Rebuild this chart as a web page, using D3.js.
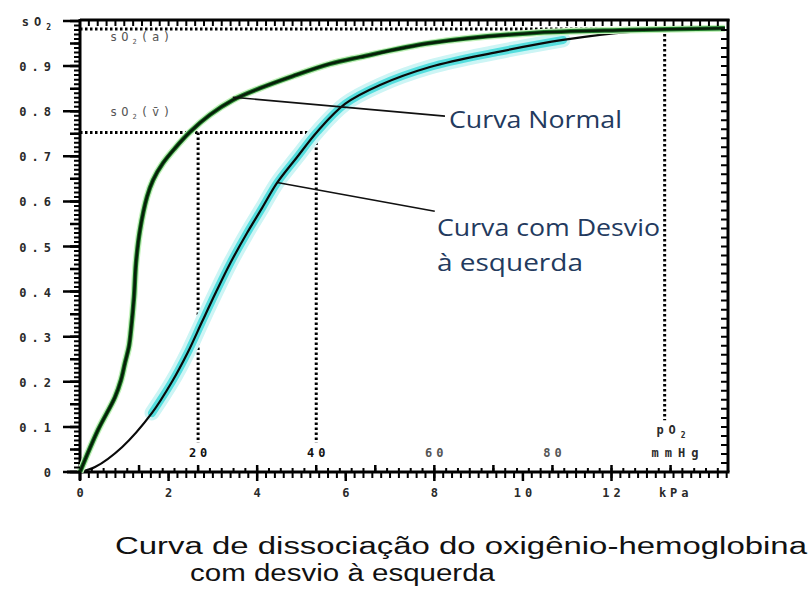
<!DOCTYPE html>
<html>
<head>
<meta charset="utf-8">
<script src="https://cdn.jsdelivr.net/npm/d3@7"></script>
<style>
  html, body { margin: 0; padding: 0; background: #fff; }
  svg { display: block; }
  .pix { font-family: "DejaVu Sans Mono", monospace; font-size: 12px; fill: #2a2a2a; font-weight: bold; }
</style>
</head>
<body>
<svg id="chart" width="812" height="591"></svg>
<script>
// ---------- data ----------
const kpaTicks = [0, 2, 4, 6, 8, 10, 12];
const kpaUnit = "kPa";
const mmHgLabels = [20, 40, 60, 80];
const satTicks = [0, 0.1, 0.2, 0.3, 0.4, 0.5, 0.6, 0.7, 0.8, 0.9, 1.0];
const satLabels = ["0", "0.1", "0.2", "0.3", "0.4", "0.5", "0.6", "0.7", "0.8", "0.9", "sO2"];

// Curve pointed to by "Curva Normal" label (kPa, saturation)
const normalCurve = [
  [0, 0], [0.406, 0.093], [0.790, 0.166], [0.926, 0.204], [1.016, 0.242],
  [1.106, 0.279], [1.151, 0.315], [1.219, 0.388], [1.264, 0.463], [1.355, 0.537],
  [1.513, 0.610], [1.648, 0.647], [1.874, 0.685], [2.145, 0.718], [2.484, 0.754],
  [2.935, 0.792], [3.455, 0.825], [4.064, 0.851], [4.810, 0.878], [5.645, 0.905],
  [6.322, 0.920], [7.902, 0.951], [10.16, 0.973], [12.42, 0.980], [14.56, 0.984]
];
// Curve pointed to by "Curva com Desvio à esquerda" label
const shiftedCurve = [
  [0, 0], [0.339, 0.011], [0.948, 0.055], [1.626, 0.131], [2.077, 0.200],
  [2.438, 0.266], [2.755, 0.333], [3.071, 0.399], [3.409, 0.466], [3.771, 0.530],
  [4.109, 0.585], [4.448, 0.641], [4.899, 0.698], [5.351, 0.754], [5.983, 0.816],
  [6.774, 0.858], [7.902, 0.898], [9.415, 0.931], [10.905, 0.958], [12.418, 0.976],
  [13.163, 0.978], [14.563, 0.982]
];

const saO2 = 0.982, svO2 = 0.753;
const pO2a_mmHg = 99, pO2v1_mmHg = 20, pO2v2_mmHg = 40;
const mmHgPerKPa = 7.5;

// annotations (data space)
const annotNormal = { from: [3.45, 0.831], to: [8.24, 0.789], text: ["Curva Normal"], len: [173], at: [8.33, 0.762] };
const annotShift = { from: [4.45, 0.642], to: [8.01, 0.578], text: ["Curva com Desvio", "à  esquerda"], len: [223, 146], at: [8.06, 0.524] };

// ---------- scales ----------
const svg = d3.select("#chart");
const xS = d3.scaleLinear().domain([0, 14.63]).range([80, 728]);
const yS = d3.scaleLinear().domain([0, 1]).range([472, 21]);
const mm = v => xS(v / mmHgPerKPa);

// ---------- frame ----------
svg.append("line").attr("x1", xS(0)).attr("x2", xS(14.63) + 1.5).attr("y1", yS(1) - 1).attr("y2", yS(1) - 1)
  .attr("stroke", "#000").attr("stroke-width", 3);
svg.append("line").attr("x1", xS(14.63)).attr("x2", xS(14.63)).attr("y1", yS(1) - 2).attr("y2", yS(0))
  .attr("stroke", "#000").attr("stroke-width", 3);
svg.append("line").attr("x1", xS(0)).attr("x2", xS(0)).attr("y1", yS(0) + 8).attr("y2", yS(1) - 2)
  .attr("stroke", "#000").attr("stroke-width", 3);
svg.append("line").attr("x1", xS(0) - 13).attr("x2", xS(14.63) + 1.5).attr("y1", yS(0)).attr("y2", yS(0))
  .attr("stroke", "#000").attr("stroke-width", 3);

// y labels
svg.append("g").selectAll("text").data(satTicks).join("text")
  .attr("class", "pix").attr("x", xS(0) - 24).attr("y", d => yS(d) + 5)
  .attr("text-anchor", "end").attr("letter-spacing", 5)
  .each(function (d, i) {
    const t = d3.select(this), s = satLabels[i];
    if (s === "sO2") { t.text("sO"); t.append("tspan").attr("dy", 4).attr("font-size", "8px").text("2"); }
    else t.text(s);
  });

// x labels
svg.append("g").selectAll("text").data(kpaTicks).join("text")
  .attr("class", "pix").attr("x", d => xS(d) + 2).attr("y", 497)
  .attr("text-anchor", "middle").attr("letter-spacing", 4).text(d => d);
svg.append("text").attr("class", "pix").attr("x", xS(13.45)).attr("y", 497)
  .attr("text-anchor", "middle").attr("letter-spacing", 4).text(kpaUnit);

svg.append("g").selectAll("text").data(mmHgLabels).join("text")
  .attr("class", "pix").attr("x", d => mm(d) + 2).attr("y", 457).attr("text-anchor", "middle")
  .attr("letter-spacing", 4).style("fill", (d, i) => i < 2 ? "#111" : "#555").text(d => d);
const pt = svg.append("text").attr("class", "pix").attr("x", xS(13.4)).attr("y", 434)
  .attr("text-anchor", "middle").attr("letter-spacing", 5).text("pO");
pt.append("tspan").attr("dy", 4).attr("font-size", "8px").text("2");
svg.append("text").attr("class", "pix").attr("x", xS(13.5)).attr("y", 457)
  .attr("text-anchor", "middle").attr("letter-spacing", 6).text("mmHg");

// ---------- reference dotted lines ----------
const dot = sel => sel.attr("stroke", "#000").attr("stroke-width", 3).attr("stroke-dasharray", "2.5,2.5").attr("fill", "none");
svg.append("line").attr("x1", xS(0)).attr("x2", mm(pO2a_mmHg)).attr("y1", yS(saO2)).attr("y2", yS(saO2)).call(dot);
svg.append("line").attr("x1", xS(0)).attr("x2", mm(pO2v2_mmHg)).attr("y1", yS(svO2)).attr("y2", yS(svO2)).call(dot);
svg.append("line").attr("x1", mm(pO2v1_mmHg)).attr("x2", mm(pO2v1_mmHg)).attr("y1", yS(svO2)).attr("y2", yS(0.065)).call(dot);
svg.append("line").attr("x1", mm(pO2v2_mmHg)).attr("x2", mm(pO2v2_mmHg)).attr("y1", yS(svO2)).attr("y2", yS(0.065)).call(dot);
svg.append("line").attr("x1", mm(pO2a_mmHg)).attr("x2", mm(pO2a_mmHg)).attr("y1", yS(saO2)).attr("y2", yS(0.115)).call(dot);
svg.append("rect").attr("x", mm(pO2v2_mmHg) - 3).attr("y", yS(svO2) - 3).attr("width", 6).attr("height", 6).attr("fill", "#000");

// small grey labels sO2(a), sO2(v)
const lab = (txt, sub, tail, sat) => {
  const t = svg.append("text").attr("class", "pix").attr("x", 110).attr("y", yS(sat))
    .attr("font-size", "10px").attr("letter-spacing", 4).style("fill", "#555").style("font-weight", "normal").text(txt);
  t.append("tspan").attr("dy", 3).attr("font-size", "7px").text(sub);
  t.append("tspan").attr("dy", -3).text(tail);
};
lab("sO", "2", "(a)", 0.955);
lab("sO", "2", "(v\u0304)", 0.79);

// ---------- curves ----------
const lineGen = d3.line().x(d => xS(d[0])).y(d => yS(d[1])).curve(d3.curveCatmullRom.alpha(0.5));

const band = shiftedCurve.filter(d => d[1] > 0.08 && d[1] < 0.97);
svg.append("path").datum(band).attr("d", lineGen).attr("fill", "none")
  .attr("stroke", "#cdf5f5").attr("stroke-width", 15).attr("stroke-linecap", "round");
svg.append("path").datum(band).attr("d", lineGen).attr("fill", "none")
  .attr("stroke", "#55dede").attr("stroke-width", 8).attr("stroke-linecap", "round");
svg.append("path").datum(shiftedCurve).attr("d", lineGen).attr("fill", "none")
  .attr("stroke", "#0a0a0a").attr("stroke-width", 2.2);

svg.append("path").datum(normalCurve).attr("d", lineGen).attr("fill", "none")
  .attr("stroke", "#c4f2bc").attr("stroke-width", 7);
svg.append("path").datum(normalCurve).attr("d", lineGen).attr("fill", "none")
  .attr("stroke", "#1f7a2a").attr("stroke-width", 4.5);
svg.append("path").datum(normalCurve).attr("d", lineGen).attr("fill", "none")
  .attr("stroke", "#061f08").attr("stroke-width", 2.6);

// ---------- annotations ----------
[annotNormal, annotShift].forEach(a => {
  svg.append("line").attr("x1", xS(a.from[0])).attr("y1", yS(a.from[1]))
    .attr("x2", xS(a.to[0])).attr("y2", yS(a.to[1])).attr("stroke", "#111").attr("stroke-width", 1.6);
  a.text.forEach((t, i) => {
    svg.append("text").attr("x", xS(a.at[0])).attr("y", yS(a.at[1]) + i * 35)
      .attr("font-family", "'Open Sans', 'Noto Sans', sans-serif").attr("font-size", "24px")
      .attr("textLength", a.len[i]).attr("lengthAdjust", "spacingAndGlyphs")
      .attr("fill", "#233a5e").text(t);
  });
});

// ---------- title ----------
svg.append("text").attr("x", 115).attr("y", 554)
  .attr("font-family", "'Liberation Sans', Arial, sans-serif").attr("font-size", "23px").attr("fill", "#111")
  .attr("textLength", 692).attr("lengthAdjust", "spacingAndGlyphs")
  .text("Curva de dissociação do oxigênio-hemoglobina");
svg.append("text").attr("x", 190).attr("y", 581)
  .attr("font-family", "'Liberation Sans', Arial, sans-serif").attr("font-size", "23px").attr("fill", "#111")
  .attr("textLength", 305).attr("lengthAdjust", "spacingAndGlyphs")
  .text("com desvio à esquerda");

// ---------- tick combs (dashed strokes whose period equals the tick step) ----------
function combX(a, b, step, yTop, yBot, w) {
  const period = xS(step) - xS(0);
  svg.append("line").attr("x1", xS(a) - w / 2).attr("x2", xS(b) + w / 2)
    .attr("y1", (yTop + yBot) / 2).attr("y2", (yTop + yBot) / 2)
    .attr("stroke", "#000").attr("stroke-width", yBot - yTop)
    .attr("stroke-dasharray", `${w},${period - w}`);
}
function combY(a, b, step, xL, xR, w) {
  const period = yS(0) - yS(step);
  svg.append("line").attr("y1", yS(a) - w / 2).attr("y2", yS(b) + w / 2)
    .attr("x1", (xL + xR) / 2).attr("x2", (xL + xR) / 2)
    .attr("stroke", "#000").attr("stroke-width", xR - xL)
    .attr("stroke-dasharray", `${w},${period - w}`);
}
combX(0.2, 14.4, 0.2, yS(1), yS(1) + 5, 2);
combY(0.98, 0.02, 0.02, xS(14.63) - 7, xS(14.63), 2);
combY(1.0, 0, 0.01, xS(0) - 6, xS(0), 2);
combY(1.0, 0, 0.05, xS(0) - 10, xS(0), 2.5);
combY(1.0, 0, 0.1, xS(0) - 17, xS(0), 2.5);
combX(0, 14.6, 0.2, yS(0), yS(0) + 6, 2);
combX(0, 12, 2, yS(0), yS(0) + 9, 2.5);
combX(2 / mmHgPerKPa, 108 / mmHgPerKPa, 2 / mmHgPerKPa, yS(0) - 4, yS(0), 2);
combX(10 / mmHgPerKPa, 100 / mmHgPerKPa, 10 / mmHgPerKPa, yS(0) - 7, yS(0), 2.5);
</script>
</body>
</html>
